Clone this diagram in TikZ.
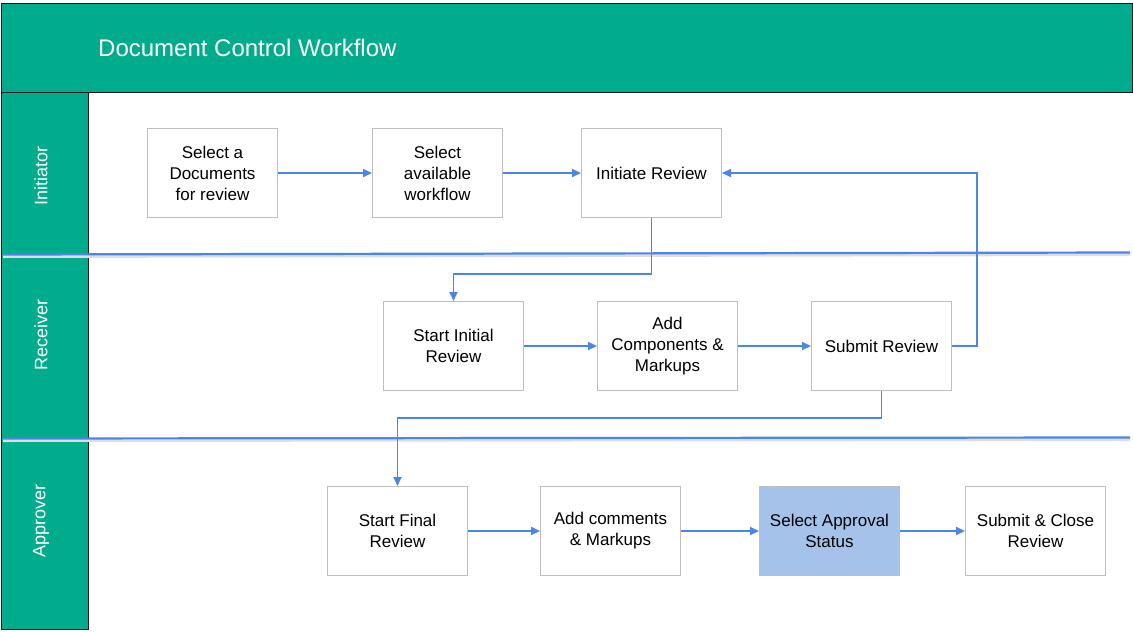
\documentclass[tikz,border=0pt]{standalone}
\usepackage{fontspec}
\setmainfont{Liberation Sans}
\usetikzlibrary{arrows.meta}
\definecolor{teal1}{RGB}{0,172,140}
\definecolor{lineblue}{RGB}{74,134,232}
\definecolor{boxgray}{RGB}{190,190,190}
\definecolor{approvalblue}{RGB}{164,194,234}
\begin{document}
\begin{tikzpicture}[x=1pt,y=-1pt,
  stepbox/.style={draw=boxgray,line width=1pt,fill=white,minimum width=140pt,minimum height=89pt,
    align=center,font=\fontsize{17}{21}\selectfont,inner sep=2pt,anchor=north west},
  flow/.style={draw=lineblue,line width=1.9pt,-{Triangle[length=9pt,width=8pt]}},
  lanesep/.style={draw=lineblue,line width=2.2pt},
  laneshadow/.style={draw=black!13,line width=3pt},
  lanelabel/.style={text=white,font=\fontsize{18}{21}\selectfont,rotate=90}]
\useasboundingbox (0,0) rectangle (1133,632);
\fill[white] (0,0) rectangle (1133,632);
% header
\node[draw=black!90,line width=1.2pt,fill=teal1,minimum width=1131pt,minimum height=89pt,anchor=north west,inner sep=0pt] (header) at (1,3) {};
\node[text=white,font=\fontsize{24}{28}\selectfont,anchor=west,inner sep=0pt] (title) at (98,48) {Document Control Workflow};
% left column
\node[draw=black!90,line width=1.2pt,fill=teal1,minimum width=87pt,minimum height=537pt,anchor=north west,inner sep=0pt] (lanecol) at (1,92) {};
\node[lanelabel] (l1) at (41,176) {Initiator};
\node[lanelabel] (l2) at (41,335) {Receiver};
\node[lanelabel] (l3) at (41,521) {Approver};
% lane separators
\coordinate (s1a) at (3,256.5);
\coordinate (s1b) at (1130,254.5);
\coordinate (s2a) at (3,440.5);
\coordinate (s2b) at (1130,439.5);
\draw[laneshadow] (s1a) -- (s1b);
\draw[laneshadow] (s2a) -- (s2b);
\coordinate (t1a) at (3,254.5);
\coordinate (t1b) at (1130,252.5);
\coordinate (t2a) at (3,438.5);
\coordinate (t2b) at (1130,437.5);
\draw[lanesep] (t1a) -- (t1b);
\draw[lanesep] (t2a) -- (t2b);
% boxes
\node[stepbox,minimum width=130pt] (A) at (147,128) {Select a\\Documents\\for review};
\node[stepbox,minimum width=130pt] (B) at (372,128) {Select\\available\\workflow};
\node[stepbox] (C) at (581,128) {Initiate Review};
\node[stepbox] (D) at (383,301) {Start Initial\\Review};
\node[stepbox] (E) at (597,301) {Add\\Components \&\\Markups};
\node[stepbox] (F) at (811,301) {Submit Review};
\node[stepbox] (G) at (327,486) {Start Final\\Review};
\node[stepbox] (H) at (540,486) {Add comments\\\& Markups};
\node[stepbox,fill=approvalblue] (I) at (759,486) {Select Approval\\Status};
\node[stepbox] (J) at (965,486) {Submit \& Close\\Review};
% connectors
\draw[flow] (A) -- (B);
\draw[flow] (B) -- (C);
\draw[flow] (C.south) -- ++(0,56) -| (D.north);
\draw[flow] (F.east) -- ++(25,0) |- (C.east);
\draw[flow] (D) -- (E);
\draw[flow] (E) -- (F);
\draw[flow] (F.south) -- ++(0,27) -| (G.north);
\draw[flow] (G) -- (H);
\draw[flow] (H) -- (I);
\draw[flow] (I) -- (J);
\end{tikzpicture}
\end{document}
